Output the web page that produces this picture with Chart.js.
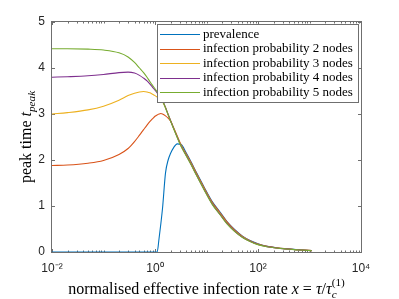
<!DOCTYPE html>
<html><head><meta charset="utf-8">
<script src="https://cdn.jsdelivr.net/npm/chart.js@4.4.0/dist/chart.umd.min.js"></script>
<style>html,body{margin:0;padding:0;background:#fff;overflow:hidden}canvas{display:block}</style>
</head><body>
<canvas id="c" width="399" height="299"></canvas>
<script>
// ---- data ----
const xValues = [0.01,0.02,0.05,0.1,0.2,0.3,0.4,0.5,0.6,0.7,0.8,0.9,1.0,1.1,1.2,1.3,1.4,1.6,1.8,2.0,2.3,2.7,3.2,4,5,6.5,9,13,18,25,35,50,70,100,150,230,350,500,700,1100];
const prevalence = [0,0,0,0,0,0,0,0,0,0,0,0,0,0,0.3,0.62,0.95,1.72,2.0,2.14,2.27,2.35,2.34,2.16,1.96,1.71,1.41,1.09,0.88,0.66,0.49,0.345,0.25,0.18,0.125,0.094,0.072,0.057,0.046,0.03];
const infection2 = [1.88,1.89,1.93,1.99,2.12,2.25,2.4,2.54,2.66,2.76,2.84,2.9,2.95,2.98,3.0,3.01,3.0,2.96,2.91,2.85,2.7,2.52,2.33,2.14,1.945,1.695,1.395,1.075,0.865,0.655,0.48,0.34,0.245,0.175,0.122,0.092,0.071,0.056,0.045,0.03];
const infection3 = [3.0,3.03,3.09,3.17,3.3,3.4,3.45,3.48,3.49,3.48,3.46,3.43,3.4,3.37,3.34,3.31,3.27,3.14,2.99,2.86,2.69,2.51,2.32,2.12,1.92,1.67,1.37,1.05,0.84,0.63,0.46,0.325,0.235,0.165,0.118,0.088,0.068,0.054,0.044,0.03];
const infection4 = [3.80,3.81,3.83,3.86,3.9,3.91,3.89,3.84,3.78,3.72,3.65,3.58,3.52,3.46,3.41,3.35,3.3,3.14,2.99,2.86,2.69,2.5,2.31,2.11,1.91,1.66,1.36,1.04,0.83,0.62,0.455,0.32,0.232,0.163,0.116,0.087,0.067,0.053,0.043,0.03];
const infection5 = [4.42,4.42,4.41,4.39,4.33,4.24,4.12,4.0,3.9,3.8,3.7,3.62,3.55,3.48,3.42,3.36,3.29,3.13,2.98,2.85,2.68,2.49,2.3,2.1,1.9,1.65,1.35,1.03,0.82,0.61,0.45,0.315,0.23,0.16,0.115,0.086,0.066,0.052,0.042,0.03];

const seriesLabels = ['prevalence','infection probability 2 nodes','infection probability 3 nodes','infection probability 4 nodes','infection probability 5 nodes'];
const seriesColors = ['#0072BD','#D95319','#EDB120','#7E2F8E','#77AC30'];
const xTickValues = [0.01, 1, 100, 10000];
const xTickLabels = ['10\u207B\u00B2','10\u2070','10\u00B2','10\u2074'];
const yTickValues = [0,1,2,3,4,5];
const xTitleParts = [
  {text:'normalised effective infection rate '},
  {text:'x', italic:true},
  {text:' = '},
  {text:'\u03C4', italic:true},
  {text:'/'},
  {text:'\u03C4', italic:true},
  {text:'c', italic:true, sub:true, stack:'(1)'}
];
const yTitleParts = [
  {text:'peak time '},
  {text:'t', italic:true},
  {text:'peak', italic:true, sub:true}
];

// ---- helpers ----
const SERIF = '"Liberation Serif", "Times New Roman", serif';
function fontStr(size, italic){ return (italic?'italic ':'') + size + 'px ' + SERIF; }
function richWidth(ctx, parts, size){
  let w = 0;
  parts.forEach(p => {
    const s = (p.sub||p.sup) ? size*0.7 : size;
    ctx.font = fontStr(s, p.italic);
    let pw = ctx.measureText(p.text).width;
    if (p.stack){ ctx.font = fontStr(s, false); pw = Math.max(pw, ctx.measureText(p.stack).width); }
    w += pw;
  });
  return w;
}
function drawRich(ctx, parts, x, y, size){
  parts.forEach(p => {
    const s = (p.sub||p.sup) ? size*0.7 : size;
    ctx.font = fontStr(s, p.italic);
    const dy = p.sub ? size*0.28 : (p.sup ? -size*0.4 : 0);
    ctx.fillText(p.text, x, y + dy);
    let pw = ctx.measureText(p.text).width;
    if (p.stack){
      ctx.font = fontStr(s, false);
      ctx.fillText(p.stack, x, y - size*0.5);
      pw = Math.max(pw, ctx.measureText(p.stack).width);
    }
    x += pw;
  });
}

const bgPlugin = {
  id:'bg',
  beforeDraw(chart){ const c=chart.ctx; c.save(); c.fillStyle='#fff'; c.fillRect(0,0,chart.width,chart.height); c.restore(); }
};

const axesPlugin = {
  id:'matlabAxes',
  beforeDatasetsDraw(chart){
    const ctx = chart.ctx, a = chart.chartArea, xs = chart.scales.x, ys = chart.scales.y;
    const L = Math.round(a.left)-0.5, R = Math.round(a.right)+0.5, T = Math.round(a.top)-0.5, B = Math.round(a.bottom)+0.5;
    ctx.save();
    ctx.strokeStyle = '#6f6f6f'; ctx.lineWidth = 1;
    ctx.strokeRect(L, T, R-L, B-T);
    ctx.beginPath();
    yTickValues.forEach(v => {
      const py = Math.round(ys.getPixelForValue(v)) + 0.5;
      ctx.moveTo(L, py); ctx.lineTo(L+3.5, py);
      ctx.moveTo(R, py); ctx.lineTo(R-3.5, py);
    });
    for (let d = -2; d < 4; d++) {
      for (let k = 1; k <= 9; k++) {
        const v = k * Math.pow(10, d);
        if (xTickValues.includes(v)) continue;
        const px = Math.round(xs.getPixelForValue(v)) + 0.5;
        ctx.moveTo(px, B); ctx.lineTo(px, B-2);
        ctx.moveTo(px, T); ctx.lineTo(px, T+2);
      }
    }
    xTickValues.forEach(v => {
      const px = Math.round(xs.getPixelForValue(v)) + 0.5;
      ctx.moveTo(px, B); ctx.lineTo(px, B-3.5);
      ctx.moveTo(px, T); ctx.lineTo(px, T+3.5);
    });
    ctx.stroke();
    ctx.restore();
  },
  afterDraw(chart){
    const ctx = chart.ctx, a = chart.chartArea;
    ctx.save();
    ctx.fillStyle = '#000';
    ctx.textBaseline = 'alphabetic';
    ctx.textAlign = 'left';
    const xs = 16;
    const xw = richWidth(ctx, xTitleParts, xs);
    drawRich(ctx, xTitleParts, (a.left + a.right)/2 - xw/2, 294, xs);
    const ysz = 16;
    const yw = richWidth(ctx, yTitleParts, ysz);
    ctx.translate(31, (a.top + a.bottom)/2);
    ctx.rotate(-Math.PI/2);
    drawRich(ctx, yTitleParts, -yw/2, 0, ysz);
    ctx.restore();

    ctx.save();
    ctx.font = '13px ' + SERIF;
    const textW = Math.max(...seriesLabels.map(l => ctx.measureText(l).width));
    const rowH = 14.5, lineLen = 40;
    const w = Math.round(3 + lineLen + 3 + textW + 5);
    const h = 78;
    const right = Math.round(a.right) - 3, top = Math.round(a.top) + 2;
    const left = right - w;
    ctx.fillStyle = '#fff'; ctx.fillRect(left, top, w, h);
    ctx.strokeStyle = '#6f6f6f'; ctx.lineWidth = 1;
    ctx.strokeRect(left+0.5, top+0.5, w, h);
    chart.data.datasets.forEach((ds, i) => {
      const y = top + 10 + i*rowH;
      ctx.strokeStyle = ds.borderColor; ctx.lineWidth = 1;
      ctx.beginPath(); ctx.moveTo(left+3, Math.round(y)+0.5); ctx.lineTo(left+3+lineLen, Math.round(y)+0.5); ctx.stroke();
      ctx.fillStyle = '#000'; ctx.textBaseline = 'middle'; ctx.textAlign = 'left';
      ctx.fillText(ds.label, left + 3 + lineLen + 3, y + 0.5);
    });
    ctx.restore();
  }
};

const seriesValues = [prevalence, infection2, infection3, infection4, infection5];
const datasets = seriesValues.map((ys, i) => ({
  label: seriesLabels[i],
  data: xValues.map((x, j) => ({x: x, y: ys[j]})),
  borderColor: seriesColors[i],
  backgroundColor: seriesColors[i],
  borderWidth: 1.1,
  pointRadius: 0,
  fill: false,
  cubicInterpolationMode: 'monotone',
  order: 5 - i
}));

const tickFont = {family: '"Liberation Sans", Arial, sans-serif', size: 12};
new Chart(document.getElementById('c'), {
  type: 'line',
  data: { datasets: datasets },
  options: {
    responsive: false,
    animation: false,
    devicePixelRatio: 1,
    layout: { padding: {top: 22, right: 38, left: 0, bottom: 0} },
    plugins: { legend: {display: false}, tooltip: {enabled: false}, title: {display: false} },
    scales: {
      x: {
        type: 'logarithmic', min: 0.01, max: 10000,
        afterBuildTicks: s => { s.ticks = xTickValues.map(v => ({value: v})); },
        afterFit: s => { s.height = 47; },
        grid: {display: false, drawTicks: false},
        border: {display: false},
        ticks: {
          autoSkip: false, maxRotation: 0, minRotation: 0, padding: 9, color: '#262626', font: tickFont,
          callback: v => { const k = xTickValues.indexOf(v); return k >= 0 ? xTickLabels[k] : ''; }
        }
      },
      y: {
        type: 'linear', min: 0, max: 5,
        afterBuildTicks: s => { s.ticks = yTickValues.map(v => ({value: v})); },
        afterFit: s => { s.width = 52; },
        grid: {display: false, drawTicks: false},
        border: {display: false},
        ticks: { padding: 7, color: '#262626', font: tickFont }
      }
    }
  },
  plugins: [bgPlugin, axesPlugin]
});
</script>
</body></html>
